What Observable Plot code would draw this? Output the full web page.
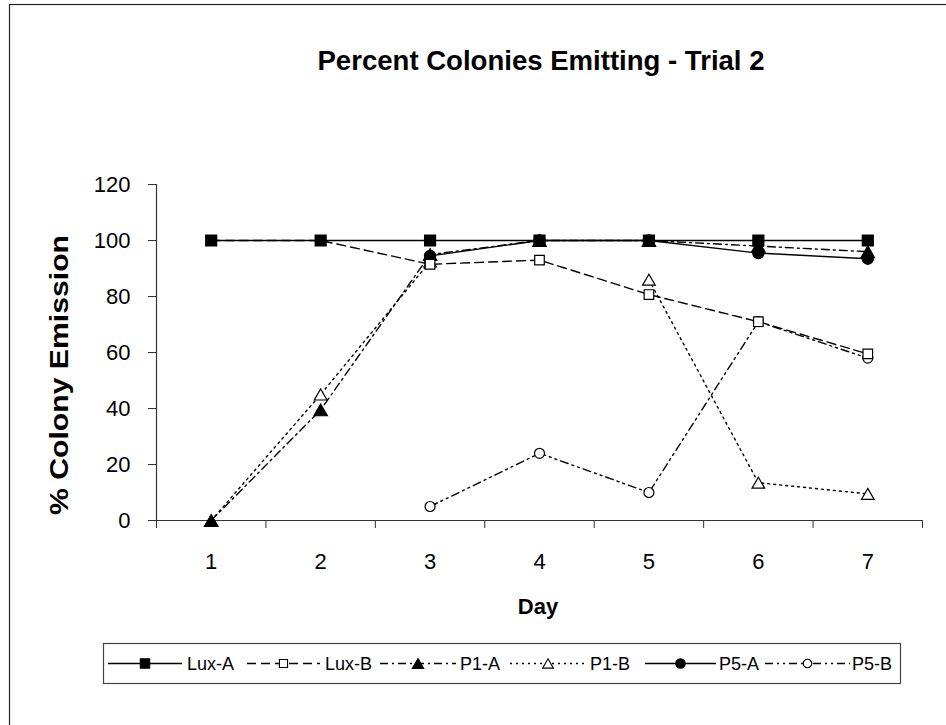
<!DOCTYPE html>
<html>
<head>
<meta charset="utf-8">
<script src="https://cdn.jsdelivr.net/npm/d3@7"></script>
<script src="https://cdn.jsdelivr.net/npm/@observablehq/plot@0.6"></script>
<style>
  html, body { margin: 0; padding: 0; background: #fff; }
  #chart svg { display: block; font-family: "Liberation Sans", Arial, sans-serif; }
</style>
</head>
<body>
<div id="chart"></div>
<script>
// Days of the trial and the percent of colonies emitting for each strain
const days = [1, 2, 3, 4, 5, 6, 7];
const seriesNames = ["Lux-A", "Lux-B", "P1-A", "P1-B", "P5-A", "P5-B"];
const luxA = [100, 100, 100, 100, 100, 100, 100];
const luxB = [100, 100, 91.5, 93, 80.7, 71, 59.5];
const p1A  = [0, 39.5, 95, 100, 100, 98, 96];
const p1B  = [0, 45, 92.5, null, 86, 13.5, 9.5];
const p5A  = [null, null, 94.5, 100, 100, 95.5, 93.5];
const p5B  = [null, null, 5, 24, 10, 71, 58];
const yTicks = [0, 20, 40, 60, 80, 100, 120];

const values = [luxA, luxB, p1A, p1B, p5A, p5B];

// Triangle centred on its bounding box rather than its centroid
const boxTriangle = {
  draw(context, size) {
    const s = Math.sqrt(size / (Math.sqrt(3) / 4));
    const h = s * Math.sqrt(3) / 2;
    context.moveTo(0, -h / 2);
    context.lineTo(s / 2, h / 2);
    context.lineTo(-s / 2, h / 2);
    context.closePath();
  }
};
const symbols = {square: d3.symbolSquare, triangle: boxTriangle, circle: d3.symbolCircle};

// Line pattern and marker per series
const looks = [
  {dash: null,            symbol: "square",   filled: true,  r: 6.2},
  {dash: "9,5",           symbol: "square",   filled: false, r: 5.4},
  {dash: "8,4,2,4",       symbol: "triangle", filled: true,  r: 5.0},
  {dash: "2,4",           symbol: "triangle", filled: false, r: 4.7},
  {dash: null,            symbol: "circle",   filled: true,  r: 5.6},
  {dash: "8,4,2,4,2,4",   symbol: "circle",   filled: false, r: 5.0}
];

const rows = seriesNames.map((name, i) =>
  days.map((day, j) => ({series: name, day, value: values[i][j]}))
);

const W = 946, H = 725;
const bounds = d3.range(0.5, 8, 1);
const axisColor = "#333";

// The first series is painted last so it sits on top of the others
const seriesMarks = rows.map((data, i) => ({data, lk: looks[i]})).reverse().flatMap(({data, lk}) => [
  Plot.line(data, {
    x: "day", y: "value",
    stroke: "black", strokeWidth: 1.4,
    strokeDasharray: lk.dash || undefined
  }),
  Plot.dot(data.filter(d => d.value != null), {
    x: "day", y: "value",
    symbol: symbols[lk.symbol], r: lk.r,
    fill: lk.filled ? "black" : "white",
    stroke: "black", strokeWidth: 1.2
  })
]);

const chart = Plot.plot({
  width: W,
  height: H,
  marginLeft: 156,
  marginRight: 24,
  marginTop: 184,
  marginBottom: 205,
  style: {background: "white", fontFamily: "Liberation Sans, Arial, sans-serif"},
  x: {type: "linear", domain: [0.5, 7.5]},
  y: {domain: [0, 120]},
  marks: [
    Plot.axisY({ticks: yTicks, tickSize: 8, tickPadding: 18, fontSize: 22,
                stroke: axisColor, fill: "black", label: null}),
    Plot.axisX({ticks: bounds, tickSize: 8, tickFormat: () => "", stroke: axisColor, label: null}),
    Plot.axisX({ticks: days, tickSize: 0, tickPadding: 33, fontSize: 22, fill: "black",
                tickFormat: d3.format("d"), label: null}),
    Plot.ruleY([0], {stroke: axisColor, strokeWidth: 1.2}),
    Plot.ruleX([0.5], {stroke: axisColor, strokeWidth: 1.2}),
    ...seriesMarks
  ]
});

document.getElementById("chart").appendChild(chart);

// Surrounding chart border, titles and the legend box
const svg = d3.select(chart);
svg.insert("rect", ":first-child")
  .attr("x", 9.5).attr("y", 4.5).attr("width", W).attr("height", H)
  .attr("fill", "white").attr("stroke", "#222").attr("stroke-width", 1.2);

svg.append("text")
  .attr("x", 541).attr("y", 70)
  .attr("text-anchor", "middle")
  .attr("font-size", 27).attr("font-weight", "bold")
  .attr("textLength", 447).attr("lengthAdjust", "spacingAndGlyphs")
  .text("Percent Colonies Emitting - Trial 2");

svg.append("text")
  .attr("x", 538).attr("y", 614)
  .attr("text-anchor", "middle")
  .attr("font-size", 22).attr("font-weight", "bold")
  .text("Day");

svg.append("text")
  .attr("transform", "translate(68,375) rotate(-90)")
  .attr("text-anchor", "middle")
  .attr("font-size", 25).attr("font-weight", "bold")
  .attr("textLength", 280).attr("lengthAdjust", "spacingAndGlyphs")
  .text("% Colony Emission");

const legend = svg.append("g").attr("text-anchor", "start");
legend.append("rect")
  .attr("x", 103.5).attr("y", 643.5).attr("width", 797).attr("height", 40)
  .attr("fill", "white").attr("stroke", "#444").attr("stroke-width", 1.2);

const legendItems = [
  {x0: 108, x1: 182, label: 187},
  {x0: 247, x1: 320, label: 325},
  {x0: 380, x1: 456, label: 460},
  {x0: 510, x1: 586, label: 590},
  {x0: 645, x1: 716, label: 719},
  {x0: 765, x1: 850, label: 852}
];
legendItems.forEach((it, i) => {
  const lk = looks[i];
  const ly = 663.5;
  legend.append("line")
    .attr("x1", it.x0).attr("x2", it.x1).attr("y1", ly).attr("y2", ly)
    .attr("stroke", "black").attr("stroke-width", 1.4)
    .attr("stroke-dasharray", lk.dash);
  const cx = (it.x0 + it.x1) / 2;
  const rr = lk.r * 0.85;
  legend.append("path")
    .attr("d", d3.symbol(symbols[lk.symbol], Math.PI * rr * rr)())
    .attr("transform", `translate(${cx},${ly})`)
    .attr("fill", lk.filled ? "black" : "white")
    .attr("stroke", "black").attr("stroke-width", 1.1);
  legend.append("text")
    .attr("x", it.label).attr("y", ly + 6.5)
    .attr("text-anchor", "start")
    .attr("font-size", 18)
    .text(seriesNames[i]);
});
</script>
</body>
</html>
